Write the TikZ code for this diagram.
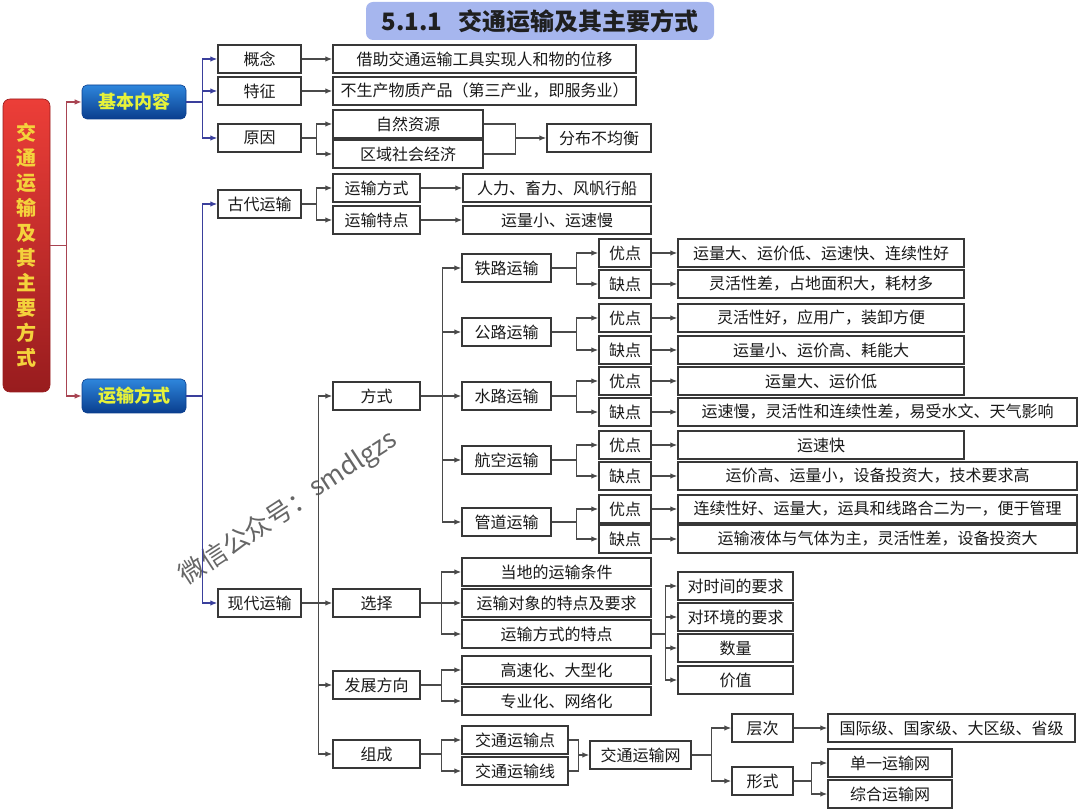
\documentclass[tikz,border=0pt]{standalone}
\usepackage{fontspec}
\setmainfont{Noto Sans CJK SC}
\usepackage{xcolor}
\usepackage{tikz}
\usetikzlibrary{arrows.meta}
\usetikzlibrary{calc}
\definecolor{boxline}{HTML}{383838}
\definecolor{lnk}{HTML}{4A4A4A}
\definecolor{bluelnk}{HTML}{3A3F9C}
\definecolor{redlnk}{HTML}{A84452}
\definecolor{titlefill}{HTML}{A6B6EE}
\definecolor{rootTop}{HTML}{EC3E38}
\definecolor{rootBot}{HTML}{981C1E}
\definecolor{blueTop}{HTML}{2E86DC}
\definecolor{blueBot}{HTML}{0A3E8E}
\definecolor{yelltext}{HTML}{F4D23C}
\definecolor{limetext}{HTML}{E6F23A}

\begin{document}
\begin{tikzpicture}[
  x=1pt, y=-1pt,
  dep/.style ={
    -{Latex[length=7pt,width=5.5pt]}, draw=lnk, line width=1.2pt
  },
  bdep/.style ={dep, draw=bluelnk, -{Latex[length=7pt,width=5.5pt,fill=bluelnk]}},
  rdep/.style ={dep, draw=redlnk, -{Latex[length=7pt,width=5.5pt,fill=redlnk]}},
  lnkline/.style ={draw=lnk, line width=1.2pt},
  cell/.style={
    rectangle,
    draw=boxline,
    line width=1.5pt,
    fill=white,
    minimum width=#1,
    minimum height=28pt,
    inner sep=0pt,
    text=black!90,
    font=\fontsize{16}{18}\selectfont},
  topic/.style={
    rectangle,
    rounded corners=5pt,
    draw=blueBot,
    line width=0.6pt,
    top color=blueTop,
    bottom color=blueBot,
    minimum width=104pt,
    minimum height=34pt,
    inner sep=0pt,
    text=limetext,
    font=\fontsize{18}{20}\selectfont\bfseries},
  wmark/.style={
    rotate=33,
    inner sep=0pt,
    text=black!60,
    font=\fontsize{26}{28}\selectfont},
]

  \useasboundingbox (0,0) rectangle (1080,810);

  % title and root
  \node[rectangle, rounded corners=7pt, fill=titlefill,
        minimum width=348pt, minimum height=38pt, inner sep=0pt,
        text=black!88, font=\fontsize{24}{26}\selectfont\bfseries] (title)
      at (540,21) {5.1.1\hspace{16pt}交通运输及其主要方式};

  \node[rectangle, rounded corners=7pt, draw=rootBot, line width=0.6pt,
        top color=rootTop, bottom color=rootBot,
        minimum width=47pt, minimum height=293pt, inner sep=0pt,
        align=center, text=yelltext,
        font=\fontsize{20}{25}\selectfont\bfseries] (root)
      at (26.5,245.5) {交\\通\\运\\输\\及\\其\\主\\要\\方\\式};

  \node[topic] (jiben) at (134,102) {基本内容};
  \node[topic] (yunshu) at (134,396) {运输方式};

  % basic content
  \node[cell=83pt] (gainian) at (259.5,59) {概念};
  \node[cell=83pt] (tezheng) at (259.5,91) {特征};
  \node[cell=83pt] (yuanyin) at (259.5,138) {原因};

  \node[cell=303pt] (jieshu) at (484.5,59) {借助交通运输工具实现人和物的位移};
  \node[cell=303pt] (bushengchan) at (484.5,91) {不生产物质产品（第三产业，即服务业）};
  \node[cell=150pt] (ziran) at (408,124) {自然资源};
  \node[cell=150pt] (quyu) at (408,154) {区域社会经济};
  \node[cell=104pt] (fenbu) at (599,138) {分布不均衡};

  % ancient
  \node[cell=83pt] (gudai) at (259.5,204) {古代运输};
  \node[cell=87pt] (gd_fs) at (376.5,188) {运输方式};
  \node[cell=87pt] (gd_td) at (376.5,220) {运输特点};
  \node[cell=188pt] (renli) at (557,188) {人力、畜力、风帆行船};
  \node[cell=188pt] (ylx) at (557,220) {运量小、运速慢};

  % modern
  \node[cell=83pt] (xiandai) at (259.5,603) {现代运输};
  \node[cell=87pt] (fangshi) at (376.5,396) {方式};
  \node[cell=87pt] (xuanze) at (376.5,603) {选择};
  \node[cell=87pt] (fazhan) at (376.5,685) {发展方向};
  \node[cell=87pt] (zucheng) at (376.5,754) {组成};

  \node[cell=89pt] (tielu) at (506.5,268) {铁路运输};
  \node[cell=89pt] (gonglu) at (506.5,332) {公路运输};
  \node[cell=89pt] (shuilu) at (506.5,396) {水路运输};
  \node[cell=89pt] (hangkong) at (506.5,460) {航空运输};
  \node[cell=89pt] (guandao) at (506.5,522) {管道运输};

  \node[cell=52pt] (tl_y) at (625,253) {优点};
  \node[cell=52pt] (tl_q) at (625,284) {缺点};
  \node[cell=52pt] (gl_y) at (625,318) {优点};
  \node[cell=52pt] (gl_q) at (625,350) {缺点};
  \node[cell=52pt] (sl_y) at (625,381) {优点};
  \node[cell=52pt] (sl_q) at (625,412) {缺点};
  \node[cell=52pt] (hk_y) at (625,445) {优点};
  \node[cell=52pt] (hk_q) at (625,476) {缺点};
  \node[cell=52pt] (gd_y) at (625,509) {优点};
  \node[cell=52pt] (gd_q) at (625,539) {缺点};

  \node[cell=286pt] (tl_yt) at (821,253) {运量大、运价低、运速快、连续性好};
  \node[cell=286pt] (tl_qt) at (821,284) {灵活性差，占地面积大，耗材多};
  \node[cell=286pt] (gl_yt) at (821,318) {灵活性好，应用广，装卸方便};
  \node[cell=286pt] (gl_qt) at (821,350) {运量小、运价高、耗能大};
  \node[cell=286pt] (sl_yt) at (821,381) {运量大、运价低};
  \node[cell=399pt] (sl_qt) at (877.5,412) {运速慢，灵活性和连续性差，易受水文、天气影响};
  \node[cell=286pt] (hk_yt) at (821,445) {运速快};
  \node[cell=399pt] (hk_qt) at (877.5,476) {运价高、运量小，设备投资大，技术要求高};
  \node[cell=399pt] (gd_yt) at (877.5,509) {连续性好、运量大，运具和线路合二为一，便于管理};
  \node[cell=399pt] (gd_qt) at (877.5,539) {运输液体与气体为主，灵活性差，设备投资大};

  \node[cell=189pt] (dangdi) at (556.5,572) {当地的运输条件};
  \node[cell=189pt] (duixiang) at (556.5,603) {运输对象的特点及要求};
  \node[cell=189pt] (tedian) at (556.5,634) {运输方式的特点};
  \node[cell=115pt] (shijian) at (735.5,586) {对时间的要求};
  \node[cell=115pt] (huanjing) at (735.5,617) {对环境的要求};
  \node[cell=115pt] (shuliang) at (735.5,648) {数量};
  \node[cell=115pt] (jiazhi) at (735.5,680) {价值};

  \node[cell=189pt] (gaosu) at (556.5,670) {高速化、大型化};
  \node[cell=189pt] (zhuanye) at (556.5,701) {专业化、网络化};

  \node[cell=106pt] (dian) at (515,740) {交通运输点};
  \node[cell=106pt] (xian) at (515,771) {交通运输线};
  \node[cell=101pt] (wang) at (640.5,755) {交通运输网};
  \node[cell=61pt] (cengci) at (762.5,728) {层次};
  \node[cell=61pt] (xingshi) at (762.5,781) {形式};
  \node[cell=247pt] (guoji) at (951.5,728) {国际级、国家级、大区级、省级};
  \node[cell=124pt] (danyi) at (890,763) {单一运输网};
  \node[cell=124pt] (zonghe) at (890,794) {综合运输网};

  % watermark
  \node[wmark, anchor=west] (mark_cn) at (181,577) {微信公众号：};
  \node[wmark, anchor=west] (mark_id) at (mark_cn.east) {smdlgzs};

  % connectors
  \draw[rdep] (root.east) -- ++(16,0) |- (jiben.west);
  \draw[rdep] (root.east) -- ++(16,0) |- (yunshu.west);

  \foreach \kid in {gainian,tezheng,yuanyin}
    \draw[bdep] (jiben.east) -- ++(16,0) |- (\kid.west);
  \foreach \kid in {gudai,xiandai}
    \draw[bdep] (yunshu.east) -- ++(16,0) |- (\kid.west);

  \draw[dep] (gainian) -- (jieshu);
  \draw[dep] (tezheng) -- (bushengchan);
  \foreach \kid in {ziran,quyu}
    \draw[dep] (yuanyin.east) -- ++(15,0) |- (\kid.west);
  \draw[lnkline] (ziran.east) -- ++(32,0) coordinate (zr_join) |- (quyu.east);
  \draw[dep] (zr_join |- fenbu.west) -- (fenbu.west);

  \foreach \kid in {gd_fs,gd_td}
    \draw[dep] (gudai.east) -- ++(15,0) |- (\kid.west);
  \draw[dep] (gd_fs) -- (renli);
  \draw[dep] (gd_td) -- (ylx);

  \foreach \kid in {fangshi,xuanze,fazhan,zucheng}
    \draw[dep] (xiandai.east) -- ++(17,0) |- (\kid.west);

  \foreach \kid in {tielu,gonglu,shuilu,hangkong,guandao}
    \draw[dep] (fangshi.east) -- ++(22,0) |- (\kid.west);

  \foreach \way/\tag in {tielu/tl,gonglu/gl,shuilu/sl,hangkong/hk,guandao/gd} {
    \draw[dep] (\way.east) -- ++(25,0) |- (\tag_y.west);
    \draw[dep] (\way.east) -- ++(25,0) |- (\tag_q.west);
    \draw[dep] (\tag_y) -- (\tag_yt);
    \draw[dep] (\tag_q) -- (\tag_qt);
  }

  \foreach \kid in {dangdi,duixiang,tedian}
    \draw[dep] (xuanze.east) -- ++(21,0) |- (\kid.west);
  \foreach \kid in {shijian,huanjing,shuliang,jiazhi}
    \draw[dep] (tedian.east) -- ++(14,0) |- (\kid.west);
  \foreach \kid in {gaosu,zhuanye}
    \draw[dep] (fazhan.east) -- ++(21,0) |- (\kid.west);
  \foreach \kid in {dian,xian}
    \draw[dep] (zucheng.east) -- ++(21,0) |- (\kid.west);

  \draw[lnkline] (dian.east) -- ++(10,0) coordinate (dx_join) |- (xian.east);
  \draw[dep] (dx_join |- wang.west) -- (wang.west);
  \foreach \kid in {cengci,xingshi}
    \draw[dep] (wang.east) -- ++(20,0) |- (\kid.west);
  \draw[dep] (cengci) -- (guoji);
  \foreach \kid in {danyi,zonghe}
    \draw[dep] (xingshi.east) -- ++(18,0) |- (\kid.west);

\end{tikzpicture}
\end{document}
